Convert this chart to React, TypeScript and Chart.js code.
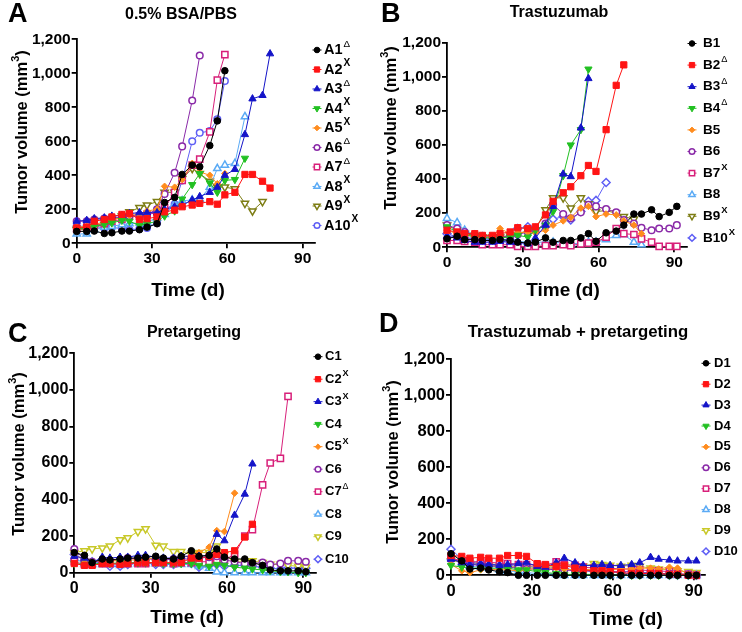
import React, { useEffect, useRef } from 'react';
import { Chart, registerables } from 'chart.js';
Chart.register(...registerables);

const FONT = '"Liberation Sans", Arial, Helvetica, sans-serif';

const DAYS = [0, 4, 7, 11, 14, 18, 21, 25, 28, 32, 35, 39, 42, 46, 49, 53, 56, 59, 63, 67, 70, 74, 77, 81, 84, 88, 91];
const X_TICKS = [0, 30, 60, 90];
const Y_TICKS = [0, 200, 400, 600, 800, 1000, 1200];

// Panel A: 0.5% BSA/PBS
const A_NAMES = ['A1', 'A2', 'A3', 'A4', 'A5', 'A6', 'A7', 'A8', 'A9', 'A10'];
const A_SUPS = ['Δ', 'X', 'Δ', 'X', 'X', 'Δ', 'Δ', 'X', 'X', 'X'];
const A1 = [70, 70, 72, 58, 62, 72, 72, 80, 95, 115, 240, 270, 405, 460, 450, 575, 720, 1015];
const A2 = [90, 95, 130, 140, 155, 170, 175, 140, 145, 155, 185, 195, 215, 225, 235, 245, 230, 285, 300, 405, 405, 365, 325];
const A3 = [130, 135, 145, 150, 160, 165, 175, 180, 180, 180, 200, 215, 225, 255, 275, 300, 330, 400, 435, 640, 850, 870, 1115];
const A4 = [85, 90, 100, 110, 120, 135, 130, 105, 115, 130, 160, 190, 260, 345, 410, 355, 300, 370, 375, 500];
const A5 = [95, 100, 110, 125, 140, 150, 165, 170, 190, 200, 335, 330, 375, 470, 420, 400, 350, 410];
const A6 = [130, 130, 140, 145, 150, 155, 160, 165, 170, 200, 290, 415, 570, 840, 1105];
const A7 = [85, 90, 105, 115, 130, 140, 160, 160, 170, 180, 210, 300, 370, 460, 495, 655, 960, 1110];
const A8 = [55, 55, 80, 95, 100, 110, 115, 120, 125, 150, 170, 230, 250, 255, 260, 330, 440, 460, 470, 745];
const A9 = [80, 80, 95, 110, 130, 160, 185, 210, 225, 245, 300, 300, 380, 440, 410, 365, 330, 330, 320, 235, 190, 245];
const A10 = [100, 100, 100, 90, 95, 85, 80, 85, 90, 120, 200, 230, 370, 600, 650, 660, 730, 955];

// Panel B: Trastuzumab
const B_NAMES = ['B1', 'B2', 'B3', 'B4', 'B5', 'B6', 'B7', 'B8', 'B9', 'B10'];
const B_SUPS = ['', 'Δ', 'Δ', 'Δ', '', '', 'X', '', 'X', 'X'];
const B1 = [50, 65, 45, 45, 40, 40, 45, 40, 30, 25, 30, 55, 30, 40, 40, 55, 80, 35, 85, 95, 130, 195, 195, 220, 180, 205, 240];
const B2 = [100, 90, 80, 80, 70, 70, 80, 90, 115, 110, 120, 190, 270, 320, 355, 420, 480, 445, 690, 950, 1070];
const B3 = [65, 55, 40, 30, 30, 30, 35, 30, 30, 20, 55, 130, 240, 430, 415, 700, 990];
const B4 = [120, 90, 70, 65, 60, 50, 55, 60, 70, 60, 100, 130, 210, 420, 600, 690, 1045];
const B5 = [100, 80, 75, 60, 60, 60, 110, 80, 85, 90, 85, 100, 130, 155, 175, 230, 240, 180, 195, 190, 155, 130, 80];
const B6 = [130, 110, 90, 70, 65, 60, 60, 65, 75, 90, 100, 140, 250, 195, 170, 205, 250, 240, 225, 205, 160, 140, 115, 100, 110, 110, 130];
const B7 = [40, 40, 35, 30, 15, 15, 15, 15, 5, 5, 5, 10, 10, 15, 10, 20, 25, 30, 60, 110, 80, 75, 50, 30, 5, 5, 5];
const B8 = [170, 145, 100, 70, 60, 50, 45, 40, 35, 30, 30, 30, 30, 25, 20, 25, 30, 30, 45, 70, 75, 30, 15];
const B9 = [130, 100, 80, 70, 60, 60, 60, 70, 75, 100, 100, 220, 290, 290, 230, 290, 255, 210, 215, 200, 180, 165];
const B10 = [80, 60, 55, 50, 50, 45, 45, 45, 110, 120, 110, 120, 165, 180, 160, 210, 270, 275, 380];

// Panel C: Pretargeting
const C_NAMES = ['C1', 'C2', 'C3', 'C4', 'C5', 'C6', 'C7', 'C8', 'C9', 'C10'];
const C_SUPS = ['', 'X', 'X', '', 'X', '', 'Δ', '', '', ''];
const C1 = [110, 95, 55, 75, 70, 75, 80, 80, 85, 90, 80, 75, 90, 120, 90, 95, 130, 85, 75, 75, 55, 40, 15, 10, 10, 10, 5];
const C2 = [50, 40, 40, 50, 50, 45, 50, 55, 55, 55, 55, 55, 55, 80, 80, 90, 100, 110, 120, 195, 265];
const C3 = [90, 80, 55, 85, 80, 85, 85, 95, 95, 85, 80, 80, 90, 90, 90, 95, 210, 175, 315, 430, 595];
const C4 = [50, 45, 45, 55, 50, 55, 55, 55, 55, 55, 50, 50, 50, 50, 40, 35, 45, 40, 30, 25, 20, 15, 10, 5, 5, 0, 0];
const C5 = [100, 70, 60, 70, 65, 65, 70, 70, 75, 80, 75, 80, 85, 90, 110, 140, 230, 225, 435];
const C6 = [130, 70, 60, 65, 65, 70, 80, 75, 75, 75, 70, 75, 75, 75, 80, 85, 90, 70, 60, 50, 50, 55, 45, 50, 65, 65, 60];
const C7 = [60, 45, 45, 50, 50, 50, 50, 50, 50, 55, 55, 50, 55, 55, 60, 60, 65, 70, 100, 200, 235, 480, 600, 625, 965];
const C8 = [80, 50, 45, 45, 45, 40, 45, 50, 50, 50, 50, 45, 45, 45, 35, 25, 5, 0, 0, 0, 0, 0, 0, 0, 0, 0, 0];
const C9 = [110, 120, 130, 135, 145, 180, 190, 225, 240, 150, 145, 115, 115, 100, 110, 110, 145, 100, 60, 60, 65, 55, 45, 45, 40, 35, 30];
const C10 = [100, 65, 60, 55, 35, 35, 45, 55, 55, 45, 45, 45, 55, 50, 30, 40, 45, 35, 40, 40, 35, 30, 25, 20, 25, 25, 25];

// Panel D: Trastuzumab + pretargeting
const D_NAMES = ['D1', 'D2', 'D3', 'D4', 'D5', 'D6', 'D7', 'D8', 'D9', 'D10'];
const D_SUPS = ['', '', '', '', '', '', '', '', '', ''];
const D1 = [120, 80, 35, 40, 30, 20, 15, 0, 0, 0, 0, 0, 0, 0, 0, 0, 0, 0, 0, 0, 0, 0, 0, 0, 0, 0, 0];
const D2 = [110, 105, 95, 100, 95, 95, 110, 110, 105, 65, 60, 50, 55, 40, 30, 25, 25, 20, 15, 10, 10, 10, 10, 5, 5, 0, 0];
const D3 = [90, 70, 60, 65, 60, 55, 60, 65, 70, 50, 45, 70, 95, 70, 55, 55, 60, 55, 55, 60, 70, 100, 90, 85, 80, 80, 80];
const D4 = [55, 45, 40, 40, 40, 40, 40, 30, 30, 20, 15, 10, 5, 5, 5, 5, 5, 0, 0, 0, 0, 0, 0, 0, 0, 0, 0];
const D5 = [60, 25, 15, 30, 35, 30, 30, 25, 30, 40, 40, 40, 35, 30, 30, 35, 35, 30, 35, 35, 40, 40, 35, 45, 40, 5, 0];
const D6 = [90, 75, 60, 55, 50, 50, 45, 40, 35, 35, 35, 30, 30, 25, 25, 20, 20, 20, 20, 20, 15, 15, 10, 10, 5, 5, 0];
const D7 = [95, 80, 75, 75, 70, 70, 65, 60, 60, 55, 55, 75, 60, 55, 45, 40, 35, 40, 35, 35, 30, 25, 25, 20, 10, 5, 0];
const D8 = [100, 70, 50, 45, 40, 30, 25, 20, 15, 10, 10, 5, 0, 0, 0, 0, 0, 0, 0, 0, 0, 0, 0, 0, 0, 0, 0];
const D9 = [80, 75, 65, 60, 55, 50, 50, 45, 45, 45, 50, 50, 55, 50, 50, 65, 60, 55, 50, 55, 50, 40, 35, 30, 25, 20, 15];
const D10 = [145, 90, 70, 75, 60, 60, 55, 50, 50, 45, 40, 40, 35, 30, 30, 25, 20, 20, 15, 5, 5, 5, 5, 0, 0, 0, 0];

const COLORS = ['#000000', '#ff1414', '#1414c8', '#22c022', '#ff8c1e', '#8a2aa8', '#d8207a', '#5aaaf5', '#7d7d14', '#5f5ff5'];
const COLOR_9_CD = '#c8c828';
const STYLES = ['circle', 'rect', 'triangle', 'triangleDown', 'rectRot', 'circle', 'rect', 'triangle', 'triangleDown', 'rectRot'];
const FILLED = [true, true, true, true, true, false, false, false, false, false];

type Panel = {
  letter: string; title: string; names: string[]; sups: string[]; series: number[][];
  color9: string; style10: string;
  rect: number[]; L: number; T: number; B: number; x90: number; xMax: number;
  letterPos: number[]; titlePos: number[]; titleSize: number; xTitlePos: number[]; yTitlePos: number[];
  tickSize: number; legend: { mx: number; tx: number; y0: number; dy: number; size: number };
};

const PANELS: Panel[] = [
  {
    letter: 'A', title: '0.5% BSA/PBS', names: A_NAMES, sups: A_SUPS, series: [A1, A2, A3, A4, A5, A6, A7, A8, A9, A10],
    color9: '#7d7d14', style10: 'circle',
    rect: [0, 0, 371, 300], L: 76.7, T: 39.3, B: 243.3, x90: 302.7, xMax: 95,
    letterPos: [8, 15], titlePos: [181, 15], titleSize: 16, xTitlePos: [188, 291], yTitlePos: [22, 132],
    tickSize: 15.5, legend: { mx: 317, tx: 324, y0: 50, dy: 19.5, size: 14.5 },
  },
  {
    letter: 'B', title: 'Trastuzumab', names: B_NAMES, sups: B_SUPS, series: [B1, B2, B3, B4, B5, B6, B7, B8, B9, B10],
    color9: '#7d7d14', style10: 'rectRot',
    rect: [371, 0, 371, 300], L: 447, T: 42.7, B: 247.3, x90: 674.3, xMax: 95,
    letterPos: [381, 15], titlePos: [559, 13], titleSize: 16, xTitlePos: [563, 291], yTitlePos: [391, 128],
    tickSize: 15.5, legend: { mx: 692, tx: 703, y0: 43.5, dy: 21.6, size: 13.5 },
  },
  {
    letter: 'C', title: 'Pretargeting', names: C_NAMES, sups: C_SUPS, series: [C1, C2, C3, C4, C5, C6, C7, C8, C9, C10],
    color9: COLOR_9_CD, style10: 'rectRot',
    rect: [0, 300, 371, 332], L: 74.3, T: 353.3, B: 572.7, x90: 303.3, xMax: 95,
    letterPos: [8, 335], titlePos: [194, 333], titleSize: 16, xTitlePos: [187, 618], yTitlePos: [19, 454],
    tickSize: 16, legend: { mx: 318, tx: 325, y0: 356.7, dy: 22.5, size: 13 },
  },
  {
    letter: 'D', title: 'Trastuzumab + pretargeting', names: D_NAMES, sups: D_SUPS, series: [D1, D2, D3, D4, D5, D6, D7, D8, D9, D10],
    color9: COLOR_9_CD, style10: 'rectRot',
    rect: [371, 300, 371, 332], L: 451, T: 359.3, B: 575.3, x90: 693.7, xMax: 94,
    letterPos: [379, 325], titlePos: [578, 332], titleSize: 16.8, xTitlePos: [626, 620], yTitlePos: [393, 462],
    tickSize: 16.5, legend: { mx: 706, tx: 714, y0: 363.3, dy: 20.9, size: 13 },
  },
];

const WY = 50;
const HX = 28;

function radiusFor(style: string, filled: boolean) {
  if (style === 'circle') return 3.3;
  if (style === 'rect') return 4.4;
  if (style === 'triangle' || style === 'triangleDown') return 4.2;
  if (style === 'rectRot') return filled ? 3.3 : 4;
  return 3.5;
}

function shapePath(ctx: CanvasRenderingContext2D, style: string, x: number, y: number, r: number) {
  ctx.beginPath();
  if (style === 'circle') {
    ctx.arc(x, y, r, 0, Math.PI * 2);
  } else if (style === 'rect') {
    const s = r * Math.SQRT1_2;
    ctx.rect(x - s, y - s, 2 * s, 2 * s);
  } else if (style === 'rectRot') {
    ctx.moveTo(x, y - r); ctx.lineTo(x + r, y); ctx.lineTo(x, y + r); ctx.lineTo(x - r, y); ctx.closePath();
  } else {
    const a0 = style === 'triangle' ? -Math.PI / 2 : Math.PI / 2;
    for (let k = 0; k < 3; k++) {
      const a = a0 + (k * 2 * Math.PI) / 3;
      const px = x + r * Math.cos(a), py = y + r * Math.sin(a);
      if (k === 0) ctx.moveTo(px, py); else ctx.lineTo(px, py);
    }
    ctx.closePath();
  }
}

function makeTextPlugin(p: Panel, colors: string[], styles: string[]) {
  return {
    id: 'panelText' + p.letter,
    afterDraw(chart: any) {
      const ctx: CanvasRenderingContext2D = chart.ctx;
      const ox = p.rect[0], oy = p.rect[1];
      ctx.save();
      ctx.fillStyle = '#000';
      ctx.textBaseline = 'middle';
      // panel letter
      ctx.textAlign = 'left';
      ctx.font = `bold 27px ${FONT}`;
      ctx.fillText(p.letter, p.letterPos[0] - ox, p.letterPos[1] - oy);
      // title
      ctx.textAlign = 'center';
      ctx.font = `bold ${p.titleSize}px ${FONT}`;
      ctx.fillText(p.title, p.titlePos[0] - ox, p.titlePos[1] - oy);
      // x title
      ctx.font = `bold 19px ${FONT}`;
      ctx.fillText('Time (d)', p.xTitlePos[0] - ox, p.xTitlePos[1] - oy);
      // y title with superscript
      ctx.save();
      ctx.translate(p.yTitlePos[0] - ox, p.yTitlePos[1] - oy);
      ctx.rotate(-Math.PI / 2);
      ctx.textAlign = 'left';
      const mainFont = `bold 16.5px ${FONT}`;
      const supFont = `bold 11px ${FONT}`;
      ctx.font = mainFont;
      const w1 = ctx.measureText('Tumor volume (mm').width;
      const w3 = ctx.measureText(')').width;
      ctx.font = supFont;
      const w2 = ctx.measureText('3').width;
      let sx = -(w1 + w2 + w3) / 2;
      ctx.font = mainFont;
      ctx.fillText('Tumor volume (mm', sx, 0);
      sx += w1;
      ctx.font = supFont;
      ctx.fillText('3', sx, -6);
      sx += w2;
      ctx.font = mainFont;
      ctx.fillText(')', sx, 0);
      ctx.restore();
      // legend
      const lg = p.legend;
      for (let i = 0; i < p.names.length; i++) {
        const y = lg.y0 + i * lg.dy - oy;
        const mx = lg.mx - ox;
        const c = colors[i];
        ctx.strokeStyle = c;
        ctx.lineWidth = 1;
        ctx.beginPath();
        ctx.moveTo(mx - 4.5, y); ctx.lineTo(mx + 4.5, y); ctx.stroke();
        const st = styles[i];
        shapePath(ctx, st, mx, y, radiusFor(st, FILLED[i]) * 0.85);
        ctx.fillStyle = FILLED[i] ? c : '#fff';
        ctx.fill();
        ctx.lineWidth = FILLED[i] ? 1 : 1.5;
        ctx.stroke();
        ctx.fillStyle = '#000';
        ctx.textAlign = 'left';
        ctx.font = `bold ${lg.size}px ${FONT}`;
        const tx = lg.tx - ox;
        ctx.fillText(p.names[i], tx, y);
        const sup = p.sups[i];
        if (sup) {
          const w = ctx.measureText(p.names[i]).width;
          ctx.font = sup === 'X' ? `bold ${lg.size * 0.7}px ${FONT}` : `${lg.size * 0.68}px ${FONT}`;
          ctx.fillText(sup, tx + w + 1, y - lg.size * 0.42);
        }
      }
      ctx.restore();
    },
  };
}

function buildConfig(p: Panel): any {
  const colors = COLORS.map((c, i) => (i === 8 ? p.color9 : c));
  const styles = STYLES.map((s, i) => (i === 9 ? p.style10 : s));
  const datasets = p.series.map((vals, i) => {
    const st = styles[i];
    const filled = FILLED[i];
    return {
      label: p.names[i],
      data: vals.map((v, j) => ({ x: DAYS[j], y: v })),
      borderColor: colors[i],
      backgroundColor: colors[i],
      borderWidth: 1,
      pointStyle: st === 'triangleDown' ? 'triangle' : st,
      pointRotation: st === 'triangleDown' ? 180 : 0,
      pointRadius: radiusFor(st, filled),
      pointBackgroundColor: filled ? colors[i] : '#ffffff',
      pointBorderColor: colors[i],
      pointBorderWidth: filled ? 1 : 1.5,
      tension: 0,
      clip: false,
    };
  });
  const [rx, ry, rw, rh] = p.rect;
  const R = p.L + ((p.x90 - p.L) / 90) * p.xMax;
  const padding = {
    left: p.L - rx - WY,
    top: p.T - ry,
    right: rx + rw - R,
    bottom: ry + rh - p.B - HX,
  };
  const tickFont = { family: FONT, size: p.tickSize, weight: 'bold' as const };
  const grid = { display: true, drawOnChartArea: false, drawTicks: true, tickLength: 5, tickWidth: 1.8, tickColor: '#000', color: '#000', lineWidth: 1.8 };
  const border = { display: true, color: '#000', width: 1.8 };
  return {
    type: 'line',
    data: { datasets },
    options: {
      animation: false,
      responsive: false,
      maintainAspectRatio: false,
      layout: { padding },
      plugins: { legend: { display: false }, tooltip: { enabled: false } },
      scales: {
        x: {
          type: 'linear', min: 0, max: p.xMax,
          afterBuildTicks: (s: any) => { s.ticks = X_TICKS.map((v) => ({ value: v })); },
          afterFit: (s: any) => { s.height = HX; },
          ticks: { font: tickFont, color: '#000', padding: 1, maxRotation: 0, autoSkip: false },
          grid, border,
        },
        y: {
          type: 'linear', min: 0, max: 1200,
          afterBuildTicks: (s: any) => { s.ticks = Y_TICKS.map((v) => ({ value: v })); },
          afterFit: (s: any) => { s.width = WY; },
          ticks: { font: tickFont, color: '#000', padding: 1, callback: (v: any) => Number(v).toLocaleString('en-US') },
          grid, border,
        },
      },
    },
    plugins: [makeTextPlugin(p, colors, styles)],
  };
}

function PanelChart({ p }: { p: Panel }) {
  const ref = useRef<HTMLCanvasElement>(null);
  useEffect(() => {
    const chart = new Chart(ref.current as HTMLCanvasElement, buildConfig(p));
    return () => chart.destroy();
  }, [p]);
  return (
    <canvas
      ref={ref}
      width={p.rect[2]}
      height={p.rect[3]}
      style={{ position: 'absolute', left: p.rect[0], top: p.rect[1], width: p.rect[2], height: p.rect[3] }}
    />
  );
}

export default function App() {
  return (
    <div style={{ position: 'absolute', left: 0, top: 0, width: 742, height: 632, background: '#fff', overflow: 'hidden' }}>
      {PANELS.map((p) => (
        <PanelChart key={p.letter} p={p} />
      ))}
    </div>
  );
}
